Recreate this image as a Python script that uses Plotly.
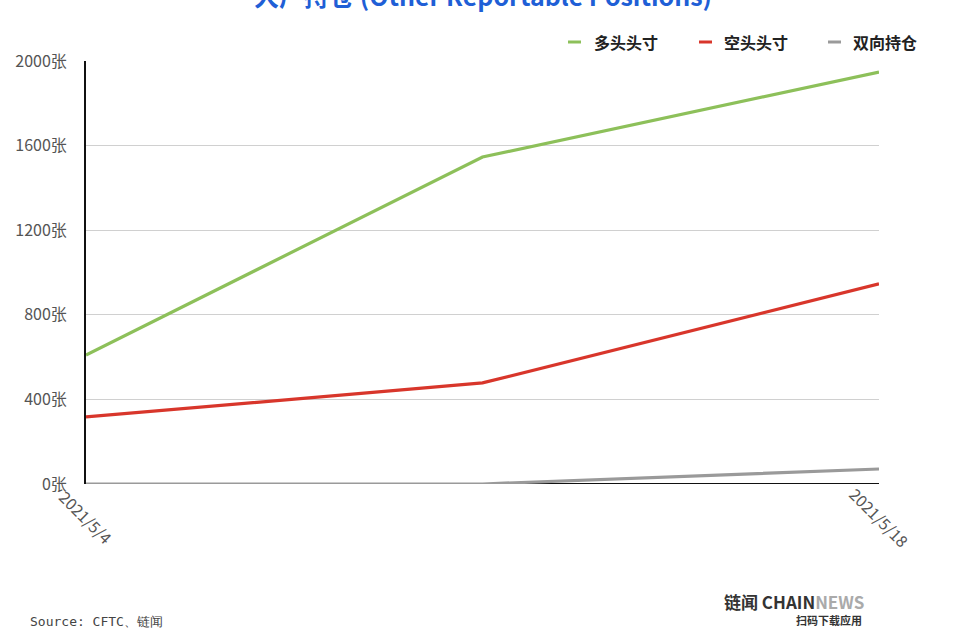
import plotly.graph_objects as go

dates = ["2021/5/4", "2021/5/11", "2021/5/18"]
shown_dates = ["2021/5/4", "2021/5/18"]
long_pos = [610, 1546, 1948]
short_pos = [317, 478, 946]
spread_pos = [0, 0, 71]
y_ticks = [0, 400, 800, 1200, 1600, 2000]
y_ticktext = [f"{v}张" for v in y_ticks]

series_names = ["多头头寸", "空头头寸", "双向持仓"]
series_vals = [long_pos, short_pos, spread_pos]
series_colors = ["#8dc05a", "#d8362b", "#9a9a9a"]

font_family = "Noto Sans CJK SC, Noto Sans, sans-serif"

fig = go.Figure()
for name, vals, color in zip(series_names, series_vals, series_colors):
    fig.add_trace(go.Scatter(x=dates, y=vals, mode="lines", name=name,
                             line=dict(color=color, width=3.2), showlegend=False))

fig.update_layout(
    width=960, height=632,
    margin=dict(l=86, r=81, t=61, b=148, autoexpand=False),
    paper_bgcolor="white", plot_bgcolor="white",
    font=dict(family=font_family, color="#555555", size=15),
    showlegend=False,
    xaxis=dict(type="category", range=[0, 2], showticklabels=False, showgrid=False,
               zeroline=False, showline=False, ticks="", automargin=False),
    yaxis=dict(range=[0, 2000], tickvals=y_ticks, ticktext=y_ticktext,
               showgrid=True, gridcolor="#d0d0d0", gridwidth=1,
               zeroline=False, showline=True, linecolor="#111111", linewidth=2,
               ticks="", ticklabelstandoff=14, automargin=False,
               tickfont=dict(size=16, color="#555555")),
)

# x-axis baseline
fig.add_shape(type="line", xref="paper", yref="y", x0=0, x1=1, y0=0, y1=0,
              line=dict(color="#111111", width=2), layer="below")

# custom legend (short line swatches + bold labels)
legend_x = [(568, 592), (699, 722), (828, 851)]
for (sx, tx), name, color in zip(legend_x, series_names, series_colors):
    xs0 = (sx - 86) / 793
    xs1 = (sx + 13 - 86) / 793
    fig.add_shape(type="line", xref="paper", yref="paper", x0=xs0, x1=xs1,
                  y0=(484 - 42) / 423, y1=(484 - 42) / 423,
                  line=dict(color=color, width=3))
    fig.add_annotation(x=(tx - 86) / 793, xref="paper", xanchor="left",
                       y=(484 - 42) / 423, yref="paper", yanchor="middle",
                       text=f"<b>{name}</b>", showarrow=False,
                       font=dict(size=16, color="#222222", family=font_family))

for d in shown_dates:
    fig.add_annotation(x=d, xref="x", y=-0.078, yref="paper", text=d, showarrow=False,
                       textangle=45, font=dict(size=16, color="#555555", family=font_family),
                       xanchor="center", yanchor="middle")

fig.add_annotation(x=0.5, xref="paper", xanchor="center", y=1.155, yref="paper",
                   yanchor="middle", text="<b>大户持仓 (Other Reportable Positions)</b>",
                   showarrow=False,
                   font=dict(size=25, color="#1f5fd6", family=font_family))

fig.add_annotation(x=(28 - 86) / 793, xref="paper", xanchor="left", y=(484 - 621) / 423,
                   yref="paper", yanchor="middle", text="Source: CFTC、链闻",
                   showarrow=False,
                   font=dict(size=13, color="#444444", family="DejaVu Sans Mono, monospace"))

fig.add_annotation(x=(866 - 86) / 793, xref="paper", xanchor="right", y=(484 - 601) / 423,
                   yref="paper", yanchor="middle",
                   text="<b>链闻 CHAIN</b><b><span style='color:#aaaaaa'>NEWS</span></b>",
                   showarrow=False, font=dict(size=17, color="#333333", family=font_family))
fig.add_annotation(x=(864 - 86) / 793, xref="paper", xanchor="right", y=(484 - 620) / 423,
                   yref="paper", yanchor="middle", text="<b>扫码下载应用</b>", showarrow=False,
                   font=dict(size=11, color="#333333", family=font_family))

fig.write_html("out.html", config={"displayModeBar": False},
               post_script="document.body.style.margin='0px';")
